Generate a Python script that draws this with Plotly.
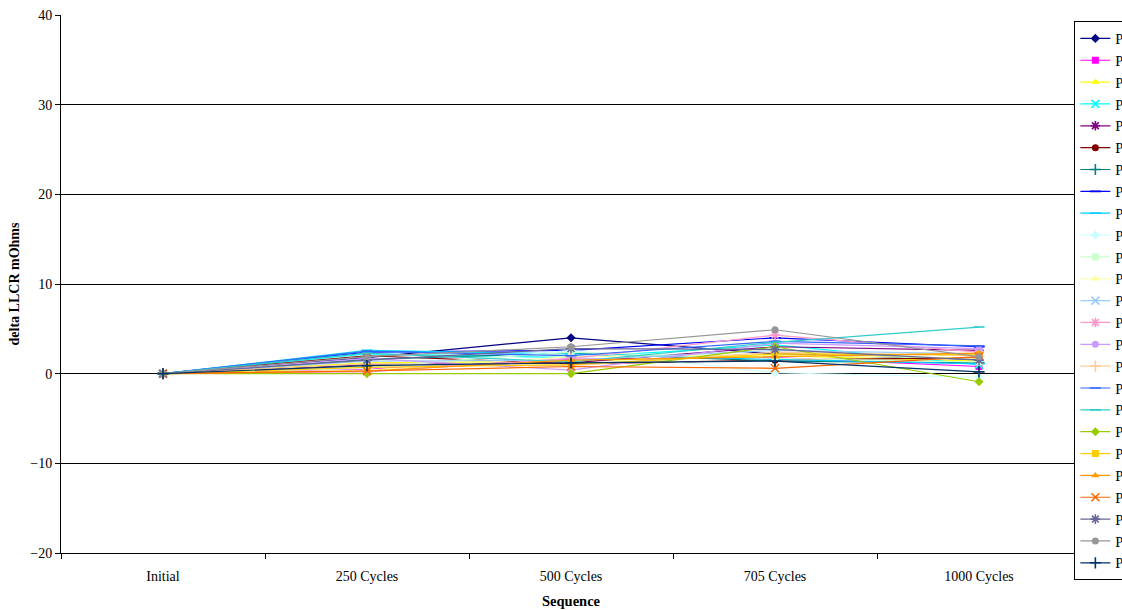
import plotly.graph_objects as go

categories = ["Initial", "250 Cycles", "500 Cycles", "705 Cycles", "1000 Cycles"]

series_names = [f"P{i}" for i in range(1, 26)]

series_values = [
    [0, 1.8, 4.0, 2.2, 1.6],
    [0, 0.5, 1.6, 1.8, 0.8],
    [0, 1.2, 1.4, 2.0, 1.4],
    [0, 2.2, 1.8, 3.2, 1.0],
    [0, 1.0, 1.2, 3.0, 2.6],
    [0, 2.0, 1.1, 1.5, 1.8],
    [0, 1.6, 2.3, 1.4, 1.2],
    [0, 2.4, 2.6, 4.0, 3.0],
    [0, 2.6, 2.2, 1.6, 1.1],
    [0, 0.6, 2.6, 0.1, -0.4],
    [0, 0.8, 2.4, 1.7, 1.3],
    [0, 0.4, 1.9, 2.1, 1.7],
    [0, 1.4, 1.5, 2.6, 2.2],
    [0, 0.2, 1.7, 4.3, 2.4],
    [0, 1.7, 0.4, 3.4, 2.8],
    [0, 1.1, 0.9, 2.4, 2.0],
    [0, 2.5, 2.0, 3.6, 3.1],
    [0, 2.3, 1.3, 3.5, 5.2],
    [0, 0.0, 0.0, 3.0, -0.9],
    [0, 0.7, 1.0, 2.2, 2.1],
    [0, 0.3, 1.5, 1.9, 2.3],
    [0, 0.3, 0.8, 0.6, 1.9],
    [0, 1.5, 2.8, 2.7, 1.5],
    [0, 1.9, 3.0, 4.9, 1.9],
    [0, 0.9, 1.2, 1.4, 0.2],
]

colors = [
    "#000080", "#FF00FF", "#FFFF00", "#00FFFF", "#800080", "#800000", "#008080",
    "#0000FF", "#00CCFF", "#CCFFFF", "#CCFFCC", "#FFFF99", "#99CCFF", "#FF99CC",
    "#CC99FF", "#FFCC99", "#3366FF", "#33CCCC", "#99CC00", "#FFCC00", "#FF9900",
    "#FF6600", "#666699", "#969696", "#003366",
]

symbols = [
    "diamond", "square", "triangle-up", "x-thin", "asterisk", "circle", "cross-thin",
    "line-ew", "line-ew", "diamond", "square", "triangle-up", "x-thin", "asterisk",
    "circle", "cross-thin", "line-ew", "line-ew", "diamond", "square", "triangle-up",
    "x-thin", "asterisk", "circle", "cross-thin",
]

y_ticks = [-20, -10, 0, 10, 20, 30, 40]

fig = go.Figure()
for name, vals, col, sym in zip(series_names, series_values, colors, symbols):
    open_sym = sym in ("x-thin", "asterisk", "cross-thin", "line-ew")
    fig.add_trace(go.Scatter(
        x=categories, y=vals, name=name, mode="lines+markers",
        line=dict(color=col, width=1.2),
        marker=dict(symbol=sym, size=7 if not open_sym else 8, color=col,
                    line=dict(color=col, width=1.6 if open_sym else 0)),
    ))

font_family = "Liberation Serif, Times New Roman, serif"

fig.update_layout(
    width=1122, height=610,
    paper_bgcolor="white", plot_bgcolor="white",
    margin=dict(l=61, r=41, t=15, b=57, autoexpand=False),
    font=dict(family=font_family, size=14, color="black"),
    showlegend=True,
    legend=dict(
        x=0.9935, xanchor="left", y=0.988, yanchor="top",
        bordercolor="black", borderwidth=1, bgcolor="white",
        font=dict(family=font_family, size=14.5, color="black"),
        itemwidth=30, tracegroupgap=0, maxheight=600,
    ),
    xaxis=dict(
        type="category", range=[-0.5, 4.5],
        showline=True, linecolor="black", linewidth=1,
        ticks="outside", tickson="boundaries", ticklen=5, tickcolor="black",
        showgrid=False, zeroline=False,
        ticklabelstandoff=10,
        title=dict(text="<b>Sequence</b>", font=dict(size=14.5), standoff=13),
        tickfont=dict(size=14),
    ),
    yaxis=dict(
        range=[-20, 40], tickvals=y_ticks,
        showline=True, linecolor="black", linewidth=1,
        ticks="outside", ticklen=5, tickcolor="black",
        showgrid=True, gridcolor="black", gridwidth=1,
        zeroline=False,
        title=dict(text="<b>delta LLCR mOhms</b>", font=dict(size=14), standoff=7),
        tickfont=dict(size=14),
    ),
)

fig.write_html(
    "out.html",
    config={"displayModeBar": False},
    post_script="document.body.style.margin='0';document.body.style.overflow='hidden';",
)
